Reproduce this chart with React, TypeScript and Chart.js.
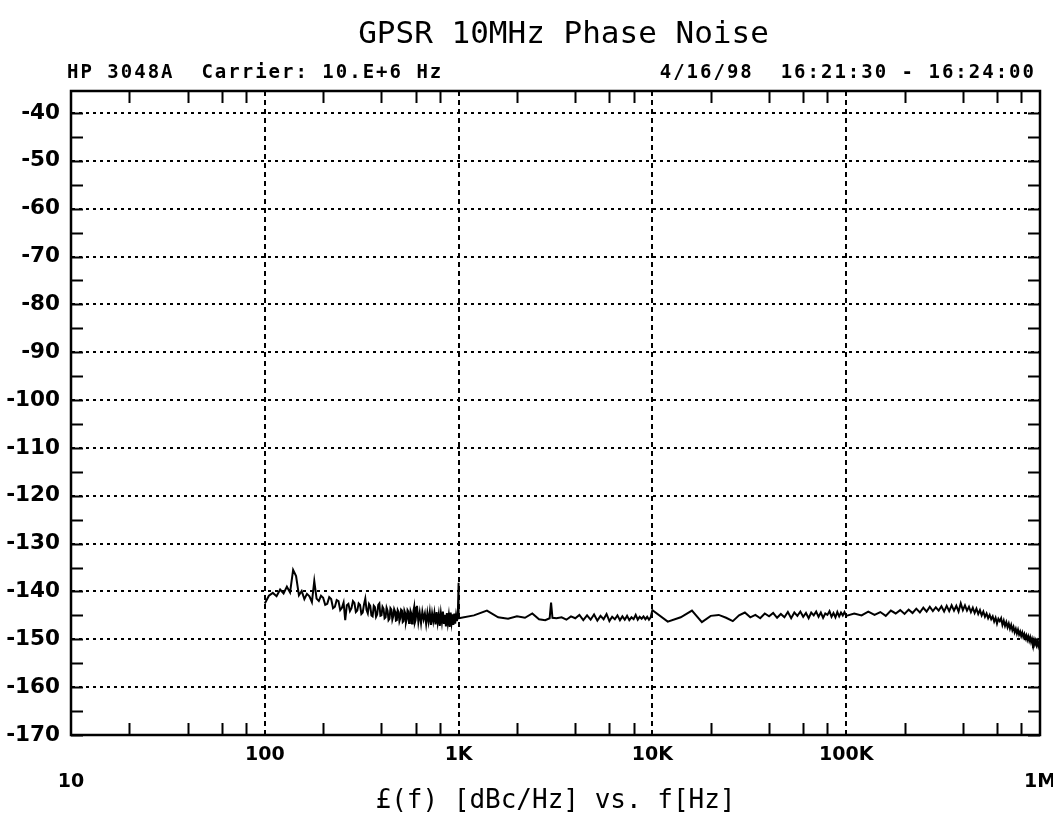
import React, { useEffect, useRef } from "react";
import { Chart, registerables } from "chart.js";

Chart.register(...registerables);

const TITLE = "GPSR 10MHz Phase Noise";
const HEADER_LEFT = "HP 3048A  Carrier: 10.E+6 Hz";
const HEADER_RIGHT = "4/16/98  16:21:30 - 16:24:00";
const X_TITLE = "£(f) [dBc/Hz] vs. f[Hz]";

const X_MAJOR = [10, 100, 1000, 10000, 100000, 1000000];
const X_LABELS: (string | string[])[] = [["", "10"], "100", "1K", "10K", "100K", ["", "1M"]];
const X_MINOR = [20, 40, 60, 80, 200, 400, 600, 800, 2000, 4000, 6000, 8000, 20000, 40000, 60000, 80000, 200000, 400000, 600000, 800000];
const Y_MAJOR = [-170, -160, -150, -140, -130, -120, -110, -100, -90, -80, -70, -60, -50, -40];
const Y_MINOR = [-165, -155, -145, -135, -125, -115, -105, -95, -85, -75, -65, -55, -45];
const Y_MIN = -170;
const Y_MAX = -35.4;

// Segment 1: 100 Hz - 1 kHz
const FREQ_SEG1 = [
  100, 105, 110, 115, 120, 125, 130, 135, 140, 145,
  150, 155, 160, 165, 170, 175, 180, 185, 190, 195,
  200, 205, 210, 215, 220, 225, 230, 235, 240, 245,
  250, 255, 260, 265, 270, 275, 280, 285, 290, 295,
  300, 305, 310, 315, 320, 325, 330, 335, 340, 345,
  350, 355, 360, 365, 370, 375, 380, 385, 390, 395,
  400, 405, 410, 415, 420, 425, 430, 435, 440, 445,
  450, 455, 460, 465, 470, 475, 480, 485, 490, 495,
  500, 505, 510, 515, 520, 525, 530, 535, 540, 545,
  550, 555, 560, 565, 570, 575, 580, 585, 590, 595,
  600, 610, 620, 630, 640, 650, 660, 670, 680, 690,
  700, 710, 720, 730, 740, 750, 760, 770, 780, 790,
  800, 810, 820, 830, 840, 850, 860, 870, 880, 890,
  900, 910, 920, 930, 940, 950, 960, 970, 980, 990,
  1000,
];
const DBC_SEG1 = [
  -142.5, -140.9, -140.3, -141.0, -139.6, -140.4, -139.0, -140.2, -135.5, -136.8,
  -140.8, -139.9, -141.6, -140.5, -141.0, -142.2, -137.8, -141.5, -142.0, -140.9,
  -141.3, -142.8, -142.6, -141.2, -141.6, -143.5, -143.2, -141.8, -142.0, -143.9,
  -143.4, -142.3, -146.0, -142.9, -142.6, -144.1, -143.5, -142.0, -142.4, -144.3,
  -144.0, -142.5, -142.8, -144.7, -144.4, -142.7, -141.5, -143.9, -144.6, -142.6,
  -143.0, -145.0, -145.2, -143.0, -143.3, -145.3, -144.8, -142.8, -142.5, -145.1,
  -145.0, -143.2, -143.6, -145.6, -145.4, -143.4, -144.0, -146.0, -145.7, -143.5,
  -143.8, -145.9, -145.2, -143.7, -144.2, -146.1, -146.0, -143.9, -144.3, -146.2,
  -145.6, -143.8, -144.0, -146.4, -146.2, -144.0, -144.5, -146.5, -145.8, -143.9,
  -144.2, -146.6, -146.3, -144.1, -144.6, -146.7, -145.9, -144.0, -143.2, -146.5,
  -146.0, -143.0, -146.4, -144.4, -146.6, -144.2, -145.8, -144.6, -146.8, -144.5,
  -146.3, -144.3, -147.0, -144.6, -146.2, -144.5, -146.9, -144.3, -146.5, -144.8,
  -147.2, -144.6, -146.4, -144.2, -146.8, -144.9, -147.3, -144.5, -146.6, -145.0,
  -147.4, -144.4, -146.5, -144.8, -147.0, -144.6, -146.7, -145.0, -146.2, -145.3,
  -138.2,
];

// Segment 2: 1 kHz - 10 kHz
const FREQ_SEG2 = [
  1000, 1200, 1400, 1600, 1800, 2000, 2200, 2400, 2600, 2800,
  2950, 3000, 3050, 3200, 3400, 3600, 3800, 4000, 4200, 4400,
  4600, 4800, 5000, 5200, 5400, 5600, 5800, 6000, 6200, 6400,
  6600, 6800, 7000, 7200, 7400, 7600, 7800, 8000, 8200, 8400,
  8600, 8800, 9000, 9200, 9400, 9600, 9800, 10000,
];
const DBC_SEG2 = [
  -145.6, -145.0, -144.0, -145.4, -145.7, -145.2, -145.5, -144.6, -145.8, -146.0,
  -145.6, -142.3, -145.5, -145.6, -145.4, -145.9, -145.2, -145.6, -144.9, -146.0,
  -145.0, -145.9, -144.8, -146.1, -145.1, -145.8, -144.7, -146.2, -145.3, -145.8,
  -145.0, -146.0, -145.2, -145.9, -145.1, -146.0, -145.4, -145.8, -144.9, -145.9,
  -145.3, -145.7, -145.2, -145.8, -145.3, -145.9, -145.4, -143.9,
];

// Segment 3: 10 kHz - 100 kHz
const FREQ_SEG3 = [
  12000, 14000, 16000, 18000, 20000, 22000, 24000, 26000, 28000, 30000,
  32000, 34000, 36000, 38000, 40000, 42000, 44000, 46000, 48000, 50000,
  52000, 54000, 56000, 58000, 60000, 62000, 64000, 66000, 68000, 70000,
  72000, 74000, 76000, 78000, 80000, 82000, 84000, 86000, 88000, 90000,
  92000, 94000, 96000, 98000, 100000,
];
const DBC_SEG3 = [
  -146.3, -145.4, -144.0, -146.4, -145.1, -144.9, -145.5, -146.2, -145.0, -144.4,
  -145.4, -144.9, -145.6, -144.6, -145.2, -144.5, -145.5, -144.7, -145.4, -144.3,
  -145.6, -144.4, -145.1, -144.2, -145.3, -144.5, -145.6, -144.4, -145.0, -144.2,
  -145.3, -144.4, -145.5, -144.6, -144.9, -144.1, -145.3, -144.5, -145.4, -144.3,
  -145.2, -144.4, -145.0, -144.3, -145.1,
];

// Segment 4: 100 kHz - 1 MHz (frequencies in kHz)
const FREQ_SEG4_KHZ = [
  110, 120, 130, 140, 150, 160, 170, 180, 190, 200,
  210, 220, 230, 240, 250, 260, 270, 280, 290, 300,
  310, 320, 330, 340, 350, 360, 370, 380, 390, 400,
  410, 420, 430, 440, 450, 460, 470, 480, 490, 500,
  510, 520, 530, 540, 550, 560, 570, 580, 590, 600,
  610, 620, 630, 640, 650, 660, 670, 680, 690, 700,
  710, 720, 730, 740, 750, 760, 770, 780, 790, 800,
  810, 820, 830, 840, 850, 860, 870, 880, 890, 900,
  910, 920, 930, 940, 950, 960, 970, 980, 990, 1000,
];
const DBC_SEG4 = [
  -144.6, -145.0, -144.2, -144.9, -144.3, -145.1, -144.0, -144.6, -143.9, -144.7,
  -143.8, -144.5, -143.6, -144.4, -143.4, -144.2, -143.2, -144.1, -143.3, -144.0,
  -143.1, -144.2, -143.0, -144.1, -142.9, -144.0, -143.0, -144.2, -142.5, -143.9,
  -142.9, -144.0, -143.2, -144.3, -143.4, -144.5, -143.6, -144.7, -143.9, -145.0,
  -144.2, -145.3, -144.6, -145.6, -144.9, -145.8, -145.2, -146.3, -145.5, -146.7,
  -145.7, -146.2, -145.6, -147.0, -146.1, -147.2, -146.4, -147.5, -146.7, -147.8,
  -147.0, -148.1, -147.4, -148.5, -147.8, -148.8, -148.0, -149.0, -148.4, -149.3,
  -148.6, -149.5, -148.9, -149.8, -149.2, -150.1, -149.4, -150.3, -149.6, -150.6,
  -149.9, -150.8, -150.1, -151.0, -150.3, -151.2, -150.5, -151.4, -150.7, -151.2,
];

function buildPoints() {
  const pts: { x: number; y: number }[] = [];
  const add = (f: number[], v: number[], mult: number) => {
    for (let i = 0; i < f.length && i < v.length; i++) pts.push({ x: f[i] * mult, y: v[i] });
  };
  add(FREQ_SEG1, DBC_SEG1, 1);
  add(FREQ_SEG2, DBC_SEG2, 1);
  add(FREQ_SEG3, DBC_SEG3, 1);
  add(FREQ_SEG4_KHZ, DBC_SEG4, 1000);
  return pts;
}

const frameAndHeader = {
  id: "frameAndHeader",
  afterDatasetsDraw(chart: any) {
    const { ctx, chartArea: a, scales } = chart;
    const x = scales.x;
    const y = scales.y;
    ctx.save();
    ctx.setLineDash([]);
    ctx.strokeStyle = "#000";
    ctx.lineWidth = 2;
    ctx.beginPath();
    for (const v of X_MINOR) {
      const px = Math.round(x.getPixelForValue(v)) + 0.5;
      ctx.moveTo(px, a.bottom);
      ctx.lineTo(px, a.bottom - 12);
      ctx.moveTo(px, a.top);
      ctx.lineTo(px, a.top + 12);
    }
    for (const v of [...Y_MAJOR, ...Y_MINOR]) {
      const py = Math.round(y.getPixelForValue(v)) + 0.5;
      ctx.moveTo(a.left, py);
      ctx.lineTo(a.left + 12, py);
      ctx.moveTo(a.right, py);
      ctx.lineTo(a.right - 12, py);
    }
    ctx.stroke();
    ctx.lineWidth = 2.5;
    ctx.strokeRect(a.left, a.top, a.right - a.left, a.bottom - a.top);

    ctx.fillStyle = "#000";
    ctx.textBaseline = "middle";
    // title
    ctx.font = "31px 'DejaVu Sans Mono'";
    ctx.textAlign = "center";
    ctx.fillText(TITLE, (a.left + a.right) / 2 + 8, 35);
    // header line
    ctx.font = "bold 19px 'DejaVu Sans Mono'";
    try {
      (ctx as any).letterSpacing = "2px";
    } catch (e) {}
    ctx.textAlign = "left";
    ctx.fillText(HEADER_LEFT, a.left - 4, 73);
    ctx.textAlign = "right";
    ctx.fillText(HEADER_RIGHT, a.right - 4, 73);
    ctx.restore();
  },
};

export default function App() {
  const ref = useRef<HTMLCanvasElement | null>(null);

  useEffect(() => {
    const canvas = ref.current;
    if (!canvas) return;
    const chart = new Chart(canvas, {
      type: "line",
      data: {
        datasets: [
          {
            data: buildPoints(),
            borderColor: "#000",
            borderWidth: 2,
            pointRadius: 0,
            tension: 0,
            fill: false,
          },
        ],
      },
      options: {
        animation: false,
        responsive: false,
        events: [],
        layout: { padding: { left: 0, right: 13, top: 91, bottom: 0 } },
        plugins: {
          legend: { display: false },
          tooltip: { enabled: false },
          title: { display: false },
        },
        scales: {
          x: {
            type: "logarithmic",
            min: 10,
            max: 1000000,
            afterBuildTicks: (s: any) => {
              s.ticks = X_MAJOR.map((v) => ({ value: v }));
            },
            afterFit: (s: any) => {
              s.height = 82;
              s.paddingLeft = 0;
              s.paddingRight = 0;
            },
            ticks: {
              autoSkip: false,
              maxRotation: 0,
              minRotation: 0,
              padding: 7,
              color: "#000",
              font: { family: "'DejaVu Sans'", weight: "bold", size: 19, lineHeight: 1.4 },
              callback: (value: any) => {
                const i = X_MAJOR.indexOf(Number(value));
                return i >= 0 ? X_LABELS[i] : "";
              },
            },
            grid: { color: "#000", lineWidth: 2, drawTicks: false },
            border: { display: true, color: "#000", width: 2, dash: [5, 4] },
            title: {
              display: true,
              text: X_TITLE,
              color: "#000",
              font: { family: "'DejaVu Sans Mono'", size: 26, weight: "normal", lineHeight: 1.2 },
              padding: { top: 0, bottom: 0 },
            },
          },
          y: {
            type: "linear",
            min: Y_MIN,
            max: Y_MAX,
            afterBuildTicks: (s: any) => {
              s.ticks = Y_MAJOR.map((v) => ({ value: v }));
            },
            afterFit: (s: any) => {
              s.width = 71;
              s.paddingTop = 0;
              s.paddingBottom = 0;
            },
            ticks: {
              padding: 11,
              color: "#000",
              font: { family: "'DejaVu Sans'", weight: "bold", size: 21.5 },
              callback: (value: any) => String(value),
            },
            grid: { color: "#000", lineWidth: 2, drawTicks: false },
            border: { display: true, color: "#000", width: 2, dash: [3, 4] },
          },
        },
      },
      plugins: [frameAndHeader],
    });
    return () => chart.destroy();
  }, []);

  return (
    <div style={{ position: "fixed", left: 0, top: 0, width: 1053, height: 817, background: "#fff" }}>
      <canvas ref={ref} width={1053} height={817} style={{ display: "block", width: 1053, height: 817 }} />
    </div>
  );
}
